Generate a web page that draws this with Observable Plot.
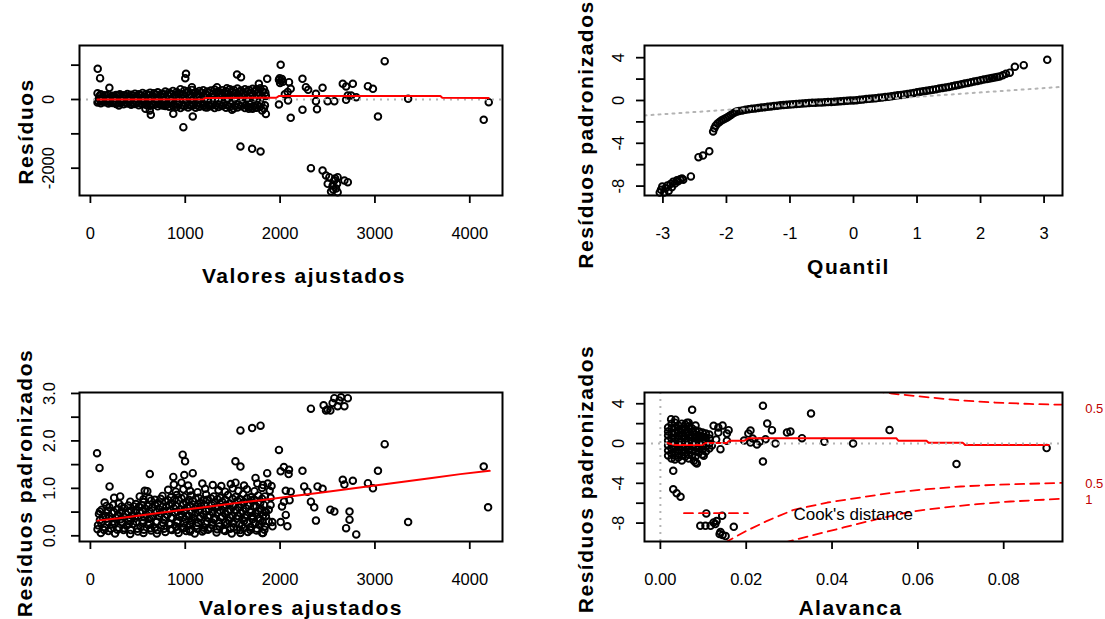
<!DOCTYPE html>
<html><head><meta charset="utf-8">
<script src="https://cdn.jsdelivr.net/npm/d3@7"></script>
<script src="https://cdn.jsdelivr.net/npm/@observablehq/plot@0.6"></script>
<style>
body{margin:0;background:#fff;}
#wrap{position:relative;width:1105px;height:619px;overflow:hidden;background:#fff;}
#wrap svg{position:absolute;overflow:visible;}
</style></head><body><div id="wrap"></div>
<script>
// ---------- Panel 1: Resíduos vs Valores ajustados ----------
const p1XTicks = [0, 1000, 2000, 3000, 4000];
const p1XLabels = ["0", "1000", "2000", "3000", "4000"];
const p1YTicks = [1000, 0, -1000, -2000];
const p1YLabelVals = [0, -2000];
const p1YLabels = ["0", "-2000"];
const resBandTop = [[75,180],[110,150],[150,120],[190,140],[230,110],[270,130],[310,150],[350,120],[390,160],[430,140],[470,170],[510,150],[550,190],[590,160],[630,200],[670,180],[710,210],[750,170],[790,230],[830,200],[870,250],[910,220],[950,300],[990,260],[1030,240],[1070,280],[1110,220],[1150,250],[1190,270],[1230,230],[1270,260],[1310,290],[1350,240],[1390,270],[1430,250],[1470,300],[1510,280],[1550,320],[1590,260],[1630,300],[1670,280],[1710,310],[1750,290],[1790,330],[1830,300]];
const resBandUpperMid = [[95,100],[135,80],[175,110],[215,70],[255,90],[295,120],[335,80],[375,100],[415,70],[455,110],[495,90],[535,120],[575,80],[615,130],[655,100],[695,140],[735,110],[775,150],[815,120],[855,160],[895,130],[935,170],[975,150],[1015,190],[1055,140],[1095,180],[1135,150],[1175,190],[1215,160],[1255,200],[1295,170],[1335,210],[1375,180],[1415,200],[1455,170],[1495,210],[1535,190],[1575,230],[1615,180],[1655,220],[1695,200],[1735,240],[1775,210],[1815,230],[1845,200]];
const resBandMid = [[90,30],[130,-10],[170,20],[210,0],[250,40],[290,10],[330,-20],[370,30],[410,0],[450,50],[490,20],[530,-10],[570,40],[610,10],[650,60],[690,0],[730,30],[770,70],[810,20],[850,-20],[890,50],[930,80],[970,30],[1010,10],[1050,60],[1090,40],[1130,90],[1170,20],[1210,50],[1250,0],[1290,70],[1330,40],[1370,100],[1410,60],[1450,30],[1490,80],[1530,50],[1570,110],[1610,70],[1650,40],[1690,90],[1730,60],[1770,120],[1810,80],[1850,100]];
const resBandLowerMid = [[80,-40],[120,-60],[160,-30],[200,-70],[240,-50],[280,-80],[320,-60],[360,-90],[400,-60],[440,-100],[480,-70],[520,-110],[560,-80],[600,-100],[640,-120],[680,-90],[720,-130],[760,-100],[800,-140],[840,-110],[880,-130],[920,-150],[960,-170],[1000,-120],[1040,-160],[1080,-130],[1120,-170],[1160,-140],[1200,-110],[1240,-160],[1280,-130],[1320,-170],[1360,-140],[1400,-120],[1440,-160],[1480,-130],[1520,-180],[1560,-150],[1600,-120],[1640,-170],[1680,-140],[1720,-190],[1760,-160],[1800,-130],[1840,-170]];
const resBandLow = [[75,-90],[110,-110],[150,-80],[190,-120],[230,-100],[270,-130],[310,-110],[350,-140],[390,-120],[430,-150],[470,-130],[510,-170],[550,-140],[590,-160],[630,-180],[670,-150],[710,-200],[750,-170],[790,-190],[830,-210],[870,-180],[910,-220],[950,-250],[990,-200],[1030,-230],[1070,-190],[1110,-240],[1150,-210],[1190,-180],[1230,-230],[1270,-200],[1310,-250],[1350,-220],[1390,-190],[1430,-240],[1470,-210],[1510,-260],[1550,-230],[1590,-200],[1630,-250],[1670,-220],[1710,-270],[1750,-240],[1790,-210],[1830,-260]];
const resScatter = [[77,893],[102,620],[200,340],[300,-175],[580,-272],[626,-320],[637,-446],[770,-175],[874,-417],[980,-806],[1079,-495],[1008,748],[1000,620],[1070,358],[1210,-224],[1335,358],[1440,330],[1546,728],[1588,650],[1864,602],[1776,457],[1741,-242],[1493,-300],[1670,-272],[1811,-320],[1850,-420],[1582,-1368],[1705,-1436],[1794,-1514],[2006,1010],[1988,573],[2010,540],[2000,480],[2030,520],[1995,620],[2020,600],[2094,505],[2112,310],[2080,220],[2050,150],[2084,-29],[1988,-146],[2112,-534],[2236,602],[2272,359],[2236,-300],[2296,282],[2378,165],[2378,-49],[2448,340],[2389,-282],[2501,-49],[2572,-49],[2661,457],[2696,378],[2767,457],[2714,116],[2696,-9],[2749,116],[2803,68],[2926,388],[2979,310],[3032,-495],[3103,1116],[3350,19],[4147,-592],[4200,-78]];
const resLowCluster = [[2325,-2000],[2448,-2067],[2484,-2213],[2519,-2262],[2572,-2358],[2554,-2504],[2601,-2455],[2537,-2678],[2607,-2698],[2678,-2358],[2714,-2406],[2607,-2262],[2590,-2590],[2502,-2455],[2560,-2620],[2580,-2300]];
const resSmooth = [[74,0],[1190,5],[1210,45],[1960,50],[1990,105],[3690,100],[3710,50],[4200,45]];
const zeroLine = [0];

// ---------- Panel 2: Q-Q ----------
const p2XTicks = [-3, -2, -1, 0, 1, 2, 3];
const p2XLabels = ["-3", "-2", "-1", "0", "1", "2", "3"];
const p2YTicks = [4, 2, 0, -2, -4, -6, -8];
const p2YLabelVals = [4, 0, -4, -8];
const p2YLabels = ["4", "0", "-4", "-8"];
const qqLower = [[-3.05,-8.6],[-3.03,-8.35],[-3.01,-8.05],[-2.98,-8.6],[-2.96,-8.2],[-2.93,-7.95],[-2.91,-8.45],[-2.88,-7.8],[-2.86,-8.1],[-2.84,-7.6],[-2.81,-7.75],[-2.78,-7.45],[-2.76,-7.55],[-2.73,-7.35],[-2.7,-7.3],[-2.68,-7.4],[-2.56,-7.1],[-2.44,-5.3],[-2.37,-5.15],[-2.27,-4.75],[-2.21,-2.9],[-2.19,-2.6],[-2.17,-2.35],[-2.14,-2.15],[-2.11,-2.0],[-2.08,-1.88],[-2.05,-1.78],[-2.02,-1.68],[-1.99,-1.58],[-1.96,-1.48],[-1.93,-1.35],[-1.9,-1.22],[-1.87,-1.12],[-1.84,-1.04]];
const qqBody = [[-1.80,-0.98],[-1.75,-0.93],[-1.70,-0.87],[-1.65,-0.82],[-1.60,-0.78],[-1.55,-0.74],[-1.50,-0.70],[-1.45,-0.66],[-1.40,-0.62],[-1.35,-0.58],[-1.30,-0.55],[-1.25,-0.51],[-1.20,-0.48],[-1.15,-0.45],[-1.10,-0.42],[-1.05,-0.40],[-1.00,-0.37],[-0.95,-0.34],[-0.90,-0.32],[-0.85,-0.30],[-0.80,-0.28],[-0.75,-0.26],[-0.70,-0.24],[-0.65,-0.22],[-0.60,-0.21],[-0.55,-0.19],[-0.50,-0.18],[-0.45,-0.16],[-0.40,-0.15],[-0.35,-0.13],[-0.30,-0.11],[-0.25,-0.09],[-0.20,-0.07],[-0.15,-0.05],[-0.10,-0.03],[-0.05,-0.01],[0.00,0.01],[0.05,0.03],[0.10,0.06],[0.15,0.09],[0.20,0.13],[0.25,0.16],[0.30,0.19],[0.35,0.22],[0.40,0.26],[0.45,0.29],[0.50,0.33],[0.55,0.36],[0.60,0.40],[0.65,0.44],[0.70,0.48],[0.75,0.52],[0.80,0.57],[0.85,0.61],[0.90,0.66],[0.95,0.71],[1.00,0.76],[1.05,0.81],[1.10,0.86],[1.15,0.91],[1.20,0.96],[1.25,1.01],[1.30,1.06],[1.35,1.11],[1.40,1.16],[1.45,1.22],[1.50,1.27],[1.55,1.33],[1.60,1.39],[1.65,1.45],[1.70,1.52],[1.75,1.58],[1.80,1.64],[1.85,1.70],[1.90,1.77],[1.95,1.83],[2.00,1.90],[2.05,1.96]];
const qqUpper = [[2.1,2.02],[2.14,2.06],[2.18,2.1],[2.22,2.15],[2.26,2.2],[2.3,2.25],[2.35,2.35],[2.4,2.5],[2.46,2.6],[2.54,3.15],[2.68,3.3],[3.05,3.8]];
const qqLine = [[-3.29,-1.4],[3.29,1.28]];

// ---------- Panel 3: Scale-location ----------
const p3YTicks = [0, 0.5, 1, 1.5, 2, 2.5, 3];
const p3YLabelVals = [0, 1, 2, 3];
const p3YLabels = ["0.0", "1.0", "2.0", "3.0"];
const slBand = [
[110,0.06],[190,0.1],[260,0.05],[350,0.12],[420,0.04],[500,0.09],[560,0.06],[640,0.11],[700,0.05],[790,0.08],[860,0.12],[930,0.06],[1010,0.1],[1100,0.05],[1180,0.09],[1240,0.13],[1330,0.07],[1420,0.1],[1490,0.05],[1580,0.12],[1660,0.08],[1750,0.11],[1820,0.06],
[80,0.22],[150,0.18],[230,0.24],[300,0.17],[380,0.21],[450,0.25],[530,0.19],[610,0.23],[680,0.17],[750,0.22],[830,0.26],[900,0.2],[980,0.18],[1050,0.24],[1120,0.21],[1200,0.17],[1280,0.23],[1360,0.2],[1440,0.25],[1510,0.18],[1600,0.22],[1690,0.19],[1780,0.24],[1840,0.2],
[100,0.33],[170,0.36],[240,0.3],[320,0.35],[400,0.31],[470,0.37],[550,0.32],[620,0.36],[700,0.3],[770,0.34],[850,0.38],[920,0.31],[1000,0.35],[1070,0.33],[1150,0.37],[1230,0.3],[1300,0.34],[1380,0.38],[1460,0.32],[1540,0.36],[1620,0.31],[1710,0.35],[1790,0.33],
[90,0.46],[160,0.42],[230,0.48],[290,0.44],[370,0.47],[440,0.43],[520,0.49],[590,0.45],[660,0.41],[740,0.47],[810,0.44],[890,0.5],[960,0.46],[1040,0.42],[1110,0.48],[1190,0.45],[1260,0.43],[1340,0.49],[1420,0.46],[1500,0.42],[1580,0.48],[1650,0.44],[1740,0.47],[1820,0.43],
[120,0.55],[200,0.6],[280,0.56],[360,0.58],[430,0.54],[510,0.61],[580,0.57],[650,0.59],[730,0.55],[800,0.62],[880,0.58],[950,0.56],[1020,0.6],[1100,0.57],[1170,0.63],[1250,0.56],[1320,0.59],[1400,0.61],[1480,0.55],[1560,0.6],[1640,0.58],[1720,0.62],[1800,0.57],
[150,0.7],[300,0.68],[420,0.72],[480,0.67],[560,0.71],[640,0.74],[710,0.69],[790,0.72],[860,0.68],[930,0.75],[1010,0.7],[1080,0.73],[1160,0.69],[1230,0.76],[1310,0.7],[1390,0.72],[1470,0.68],[1550,0.74],[1620,0.71],[1700,0.75],[1790,0.69],
[250,0.8],[520,0.83],[620,0.79],[760,0.84],[850,0.81],[910,0.86],[990,0.82],[1060,0.85],[1140,0.8],[1220,0.87],[1300,0.83],[1370,0.8],[1450,0.86],[1530,0.82],[1610,0.88],[1690,0.81],[1770,0.85],[1840,0.83],
[600,0.94],[820,0.97],[900,0.93],[980,0.98],[1050,0.95],[1130,0.92],[1210,0.99],[1350,0.96],[1420,0.93],[1500,1.0],[1560,0.95],[1650,0.98],[1730,0.94],[1810,1.01],
[880,1.08],[960,1.12],[1030,1.06],[1180,1.1],[1290,1.07],[1380,1.05],[1480,1.09],[1530,1.12],[1620,1.06],[1760,1.1],[1820,1.07]];
const slBandFill = [
[75,0.14],[145,0.12],[215,0.15],[285,0.13],[355,0.16],[425,0.12],[495,0.15],[565,0.13],[635,0.16],[705,0.12],[775,0.15],[845,0.14],[915,0.12],[985,0.16],[1055,0.13],[1125,0.15],[1195,0.12],[1265,0.16],[1335,0.14],[1405,0.12],[1475,0.15],[1545,0.13],[1615,0.16],[1685,0.12],[1755,0.15],[1835,0.13],
[115,0.27],[185,0.29],[255,0.26],[335,0.28],[405,0.25],[485,0.29],[555,0.27],[625,0.26],[695,0.29],[765,0.27],[845,0.25],[915,0.28],[985,0.26],[1065,0.29],[1135,0.27],[1215,0.25],[1285,0.28],[1355,0.26],[1425,0.29],[1505,0.27],[1575,0.25],[1655,0.28],[1735,0.26],[1815,0.29],
[130,0.39],[200,0.41],[270,0.38],[350,0.4],[420,0.37],[500,0.41],[570,0.39],[640,0.38],[720,0.41],[790,0.39],[860,0.37],[940,0.4],[1010,0.42],[1090,0.38],[1160,0.41],[1240,0.39],[1310,0.37],[1390,0.41],[1470,0.39],[1550,0.42],[1630,0.38],[1710,0.4],[1780,0.37],[1850,0.41],
[100,0.51],[180,0.53],[250,0.5],[330,0.52],[400,0.5],[480,0.54],[550,0.51],[620,0.53],[700,0.5],[770,0.52],[840,0.54],[920,0.51],[990,0.53],[1070,0.5],[1140,0.54],[1220,0.52],[1290,0.5],[1370,0.53],[1450,0.51],[1530,0.54],[1610,0.52],[1690,0.5],[1770,0.53],[1840,0.51],
[170,0.63],[240,0.65],[330,0.62],[400,0.64],[460,0.62],[540,0.65],[610,0.63],[680,0.66],[760,0.62],[830,0.65],[900,0.63],[980,0.66],[1050,0.64],[1130,0.62],[1200,0.66],[1280,0.64],[1350,0.62],[1430,0.65],[1510,0.63],[1590,0.66],[1670,0.64],[1750,0.62],[1830,0.65],
[560,0.77],[680,0.76],[740,0.78],[820,0.75],[890,0.77],[960,0.79],[1040,0.76],[1110,0.78],[1190,0.75],[1270,0.79],[1340,0.77],[1420,0.76],[1500,0.78],[1580,0.77],[1650,0.79],[1730,0.76],[1810,0.78]];
const slScatter = [[70,1.74],[96,1.43],[202,1.04],[314,0.83],[573,0.95],[626,1.3],[874,1.24],[973,1.71],[998,1.57],[1079,1.32],[990,1.28],[1529,1.57],[1582,1.46],[1582,2.22],[1705,2.27],[1794,2.32],[1864,1.32],[1741,1.22],[1988,1.81],[2006,1.36],[2094,1.39],[2112,0.93],[2236,1.37],[2254,1.04],[2289,0.93],[2325,0.72],[2360,0.6],[2378,0.32],[2395,1.04],[2448,0.99],[2530,0.55],[2572,0.51],[2661,1.18],[2678,1.08],[2767,1.16],[2732,0.51],[2732,0.34],[2696,0.16],[2803,0.03],[2926,1.11],[2979,1.0],[3032,1.37],[3103,1.93],[3350,0.29],[4147,1.46],[4193,0.6],
[1051,0.09],[1582,0.06],[1811,0.06],[1917,0.29],[2006,0.29],[2077,0.2],[2060,0.44],[2041,0.72],[1688,0.17],[1705,0.42],[1850,0.5],[1900,0.8],[2020,0.62],[2060,0.95],[2090,1.3],[2040,1.45],[2100,0.75],[1880,0.55],[1900,0.65],[1890,0.95],[1870,1.1],[1910,1.05],[1880,0.3],[1920,0.2]];
const slTopCluster = [[2325,2.68],[2459,2.75],[2484,2.64],[2530,2.64],[2554,2.8],[2572,2.9],[2607,2.73],[2643,2.92],[2678,2.73],[2714,2.9],[2625,2.85],[2500,2.66]];
const slSmooth = [[74,0.32],[300,0.37],[600,0.45],[900,0.53],[1200,0.6],[1500,0.68],[1800,0.75],[2100,0.83],[2400,0.9],[2700,0.98],[3000,1.06],[3300,1.14],[3600,1.22],[3900,1.3],[4210,1.37]];

// ---------- Panel 4: Resíduos vs Alavanca ----------
const p4XTicks = [0, 0.02, 0.04, 0.06, 0.08];
const p4XLabels = ["0.00", "0.02", "0.04", "0.06", "0.08"];
const p4YTicks = [4, 2, 0, -2, -4, -6, -8];
const p4YLabelVals = [4, 0, -4, -8];
const p4YLabels = ["4", "0", "-4", "-8"];
const levBand = [
[0.0018,-1.2],[0.0018,-0.7],[0.0018,-0.2],[0.0018,0.3],[0.0018,0.8],[0.0018,1.2],[0.0018,1.6],
[0.0026,-1.5],[0.0026,-1.0],[0.0026,-0.5],[0.0026,0],[0.0026,0.5],[0.0026,1.0],[0.0026,1.5],[0.0026,2.0],
[0.0034,-1.6],[0.0034,-1.2],[0.0034,-0.8],[0.0034,-0.3],[0.0034,0.2],[0.0034,0.6],[0.0034,1.1],[0.0034,1.6],[0.0034,2.1],
[0.0042,-1.4],[0.0042,-1.0],[0.0042,-0.6],[0.0042,-0.1],[0.0042,0.4],[0.0042,0.8],[0.0042,1.3],[0.0042,1.8],
[0.0050,-1.7],[0.0050,-1.2],[0.0050,-0.7],[0.0050,-0.3],[0.0050,0.2],[0.0050,0.7],[0.0050,1.1],[0.0050,1.5],[0.0050,2.0],
[0.0058,-1.3],[0.0058,-0.9],[0.0058,-0.4],[0.0058,0.1],[0.0058,0.5],[0.0058,1.0],[0.0058,1.4],[0.0058,1.9],
[0.0066,-1.5],[0.0066,-1.1],[0.0066,-0.6],[0.0066,-0.2],[0.0066,0.3],[0.0066,0.8],[0.0066,1.2],[0.0066,1.7],[0.0066,2.1],
[0.0074,-1.2],[0.0074,-0.7],[0.0074,-0.3],[0.0074,0.2],[0.0074,0.6],[0.0074,1.1],[0.0074,1.5],
[0.0082,-1.9],[0.0082,-1.3],[0.0082,-0.8],[0.0082,-0.4],[0.0082,0.1],[0.0082,0.5],[0.0082,0.9],[0.0082,1.3],[0.0082,1.8],
[0.0090,-0.9],[0.0090,-0.5],[0.0090,0],[0.0090,0.4],[0.0090,0.8],[0.0090,1.2],
[0.0098,-1.1],[0.0098,-0.6],[0.0098,-0.2],[0.0098,0.3],[0.0098,0.7],[0.0098,1.1],
[0.0106,-0.8],[0.0106,-0.3],[0.0106,0.2],[0.0106,0.6],[0.0106,1.0],
[0.0114,-0.5],[0.0114,0],[0.0114,0.5],[0.0114,0.9]];
const levScatter = [[0.0025,2.45],[0.0035,2.4],[0.0062,2.1],[0.0074,3.39],[0.0030,-2.74],[0.0030,-4.6],[0.0038,-5.0],[0.0047,-5.35],[0.0078,-1.74],[0.0085,-2.0],[0.0101,-1.24],[0.0124,1.78],[0.0135,1.6],[0.0145,1.8],[0.0159,1.34],[0.014,-0.57],[0.0155,0.27],[0.013,0.4],[0.012,-0.2],[0.0135,1.1],[0.0155,1.0],[0.021,1.3],[0.0205,1.0],[0.0195,0.3],[0.021,0.1],[0.0225,-0.1],[0.0215,0.5],[0.0239,3.79],[0.0249,2.01],[0.026,1.34],[0.0239,-1.81],[0.0268,0],[0.0245,0.44],[0.0232,0.2],[0.0295,1.1],[0.0303,1.2],[0.033,0.54],[0.0351,3.02],[0.0382,0.17],[0.0449,0.0],[0.0534,1.35],[0.069,-2.07],[0.09,-0.46]];
const levLowCluster = [[0.0107,-7.03],[0.0093,-8.27],[0.0105,-8.27],[0.0117,-8.27],[0.0124,-7.94],[0.0131,-7.8],[0.0144,-7.27],[0.0171,-8.37],[0.0138,-9.1],[0.0145,-9.2],[0.0152,-9.3],[0.014,-8.9],[0.0128,-8.1]];
const levSmooth = [[0.0015,0.05],[0.0035,-0.15],[0.0098,-0.15],[0.0105,0.05],[0.0155,0.05],[0.016,0.27],[0.0195,0.27],[0.0205,0.52],[0.055,0.52],[0.0555,0.27],[0.062,0.27],[0.0625,0.07],[0.0705,0.07],[0.071,-0.15],[0.0905,-0.15]];
const cookUpperHalf = [[0.050,5.3],[0.054,5.02],[0.062,4.66],[0.070,4.33],[0.078,4.12],[0.086,3.98],[0.0937,3.9]];
const cookLowerHalf = [[0.0150,-10.0],[0.0155,-9.85],[0.0201,-8.77],[0.0249,-7.77],[0.0311,-6.66],[0.0389,-5.93],[0.0466,-5.43],[0.0544,-4.92],[0.0622,-4.59],[0.070,-4.32],[0.0776,-4.15],[0.0937,-3.95]];
const cookLowerOne = [[0.0290,-10.1],[0.0298,-9.85],[0.035,-9.28],[0.0427,-8.44],[0.0505,-7.6],[0.0583,-6.86],[0.066,-6.43],[0.0738,-6.09],[0.0816,-5.83],[0.0937,-5.55]];
const cookLegendLine = [[0.0055,-7.0],[0.0204,-7.0]];
const cookLegendText = [{h: 0.031, r: -7.1, label: "Cook's distance"}];
const cookLevelLabels = [{h: 0.0990, r: 3.49, label: "0.5"}, {h: 0.0990, r: -4.08, label: "0.5"}, {h: 0.0990, r: -5.69, label: "1"}];

// ---------- drawing ----------
const FONT = '"Liberation Sans", Arial, Helvetica, sans-serif';
const wrap = document.getElementById("wrap");
const lab = (vals, labels) => { const m = new Map(vals.map((v, i) => [v, labels[i]])); return d => m.get(d); };
const dotStyle = {x: d => d[0], y: d => d[1], r: 3.3, stroke: "black", strokeWidth: 1.9, fill: "none"};
const lineStyle = {x: d => d[0], y: d => d[1]};
const TITLES = ["Resíduos", "Resíduos padronizados", "Valores ajustados", "Quantil", "Alavanca"];

function panel(o) {
  const svg = Plot.plot({
    width: o.width, height: o.height,
    marginLeft: o.m[0], marginTop: o.m[1], marginRight: o.m[2], marginBottom: o.m[3],
    x: {domain: o.xDomain, label: null},
    y: {domain: o.yDomain, label: null},
    style: {fontFamily: FONT, background: "transparent", color: "black", overflow: "visible"},
    marks: [
      ...o.marks,
      Plot.frame({stroke: "black", strokeWidth: 2}),
      Plot.axisX(o.xTicks, {tickSize: 8, tickPadding: 24, fontSize: 16.5, strokeWidth: 1.8, tickFormat: lab(o.xTicks, o.xLabels), label: null, fontFamily: FONT}),
      Plot.axisY(o.yTicks, {tickSize: 8, strokeWidth: 1.8, tickFormat: () => "", label: null}),
      Plot.text(o.yLabelVals, {y: d => d, text: lab(o.yLabelVals, o.yLabels), frameAnchor: "left", dx: o.yLabDx, rotate: -90, textAnchor: "middle", lineAnchor: "middle", fontSize: 16.5, fontFamily: FONT, fill: "black"}),
      Plot.text([o.xTitle], {frameAnchor: "bottom", dy: o.xTitleDy, dx: o.xTitleDx || 0, lineAnchor: "bottom", textAnchor: "middle", fontSize: 21, fontWeight: "bold", fontFamily: FONT, fill: "black"}),
      Plot.text([o.yTitle], {frameAnchor: "left", dx: o.yTitleDx, dy: o.yTitleDy, rotate: -90, textAnchor: "middle", lineAnchor: "middle", fontSize: 21, fontWeight: "bold", fontFamily: FONT, fill: "black"})
    ]
  });
  svg.style.left = o.left + "px";
  svg.style.top = o.top + "px";
  svg.querySelectorAll("text").forEach(t => { if (TITLES.includes(t.textContent)) t.setAttribute("letter-spacing", "1.5px"); });
  wrap.appendChild(svg);
}

const dotted = {stroke: "#b4b4b4", strokeWidth: 2, strokeDasharray: "2,5"};
const red = {stroke: "red", strokeWidth: 2};
const dashed = {stroke: "red", strokeWidth: 1.8, strokeDasharray: "9,6", clip: true};

panel({left: 0, top: 0, width: 552, height: 300, m: [79, 45, 50, 105],
  xDomain: [-115, 4345], yDomain: [-2795, 1572],
  xTicks: p1XTicks, xLabels: p1XLabels, yTicks: p1YTicks, yLabelVals: p1YLabelVals, yLabels: p1YLabels, yLabDx: -31,
  xTitle: "Valores ajustados", xTitleDy: 87, xTitleDx: 13, yTitle: "Resíduos", yTitleDx: -53, yTitleDy: 11,
  marks: [
    Plot.dot(resBandTop, dotStyle), Plot.dot(resBandUpperMid, dotStyle), Plot.dot(resBandMid, dotStyle),
    Plot.dot(resBandLowerMid, dotStyle), Plot.dot(resBandLow, dotStyle),
    Plot.dot(resScatter, dotStyle), Plot.dot(resLowCluster, dotStyle),
    Plot.ruleY(zeroLine, dotted),
    Plot.line(resSmooth, {...lineStyle, ...red})
  ]});

panel({left: 552, top: 0, width: 553, height: 300, m: [92, 45, 43, 105],
  xDomain: [-3.29, 3.29], yDomain: [-8.88, 5.14],
  xTicks: p2XTicks, xLabels: p2XLabels, yTicks: p2YTicks, yLabelVals: p2YLabelVals, yLabels: p2YLabels, yLabDx: -26,
  xTitle: "Quantil", xTitleDy: 78, xTitleDx: -5, yTitle: "Resíduos padronizados", yTitleDx: -58, yTitleDy: 14,
  marks: [
    Plot.dot(qqLower, dotStyle), Plot.dot(qqBody, dotStyle), Plot.dot(qqUpper, dotStyle),
    Plot.line(qqLine, {...lineStyle, ...dotted, clip: true})
  ]});

panel({left: 0, top: 300, width: 552, height: 319, m: [79, 92, 50, 78],
  xDomain: [-115, 4345], yDomain: [-0.12, 3.02],
  xTicks: p1XTicks, xLabels: p1XLabels, yTicks: p3YTicks, yLabelVals: p3YLabelVals, yLabels: p3YLabels, yLabDx: -30,
  xTitle: "Valores ajustados", xTitleDy: 73, xTitleDx: 10, yTitle: "Resíduos padronizados", yTitleDx: -54, yTitleDy: 16,
  marks: [
    Plot.dot(slBand, dotStyle), Plot.dot(slBandFill, dotStyle), Plot.dot(slScatter, dotStyle), Plot.dot(slTopCluster, dotStyle),
    Plot.line(slSmooth, {...lineStyle, ...red})
  ]});

panel({left: 552, top: 300, width: 553, height: 319, m: [92, 92, 43, 78],
  xDomain: [-0.0037, 0.0937], yDomain: [-9.85, 5.13],
  xTicks: p4XTicks, xLabels: p4XLabels, yTicks: p4YTicks, yLabelVals: p4YLabelVals, yLabels: p4YLabels, yLabDx: -26,
  xTitle: "Alavanca", xTitleDy: 73, xTitleDx: -3, yTitle: "Resíduos padronizados", yTitleDx: -58, yTitleDy: 12,
  marks: [
    Plot.dot(levBand, dotStyle), Plot.dot(levScatter, dotStyle), Plot.dot(levLowCluster, dotStyle),
    Plot.line(levSmooth, {...lineStyle, ...red}),
    Plot.ruleY(zeroLine, dotted), Plot.ruleX(zeroLine, dotted),
    Plot.line(cookUpperHalf, {...lineStyle, ...dashed}),
    Plot.line(cookLowerHalf, {...lineStyle, ...dashed}),
    Plot.line(cookLowerOne, {...lineStyle, ...dashed}),
    Plot.line(cookLegendLine, {...lineStyle, ...dashed}),
    Plot.text(cookLegendText, {x: "h", y: "r", text: "label", textAnchor: "start", fontSize: 17, fontFamily: FONT, fill: "black"}),
    Plot.text(cookLevelLabels, {x: "h", y: "r", text: "label", textAnchor: "start", fontSize: 13, fontFamily: FONT, fill: "#c00000"})
  ]});
</script>
</body></html>
